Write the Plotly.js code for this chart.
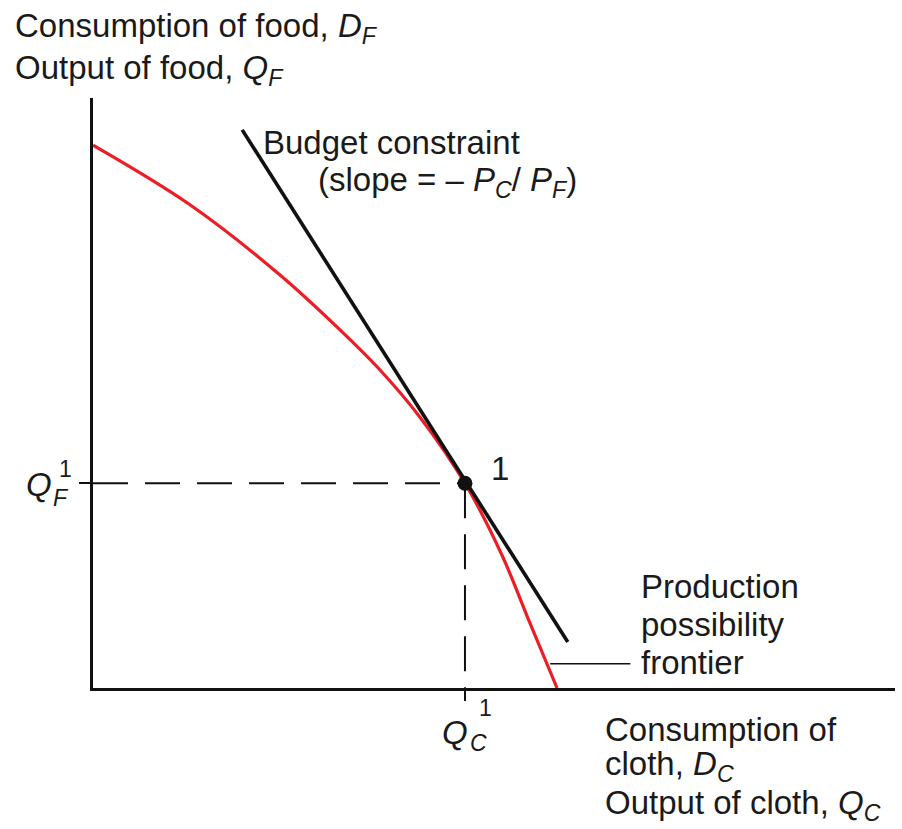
<!DOCTYPE html>
<html>
<head>
<meta charset="utf-8">
<script src="https://cdn.plot.ly/plotly-3.0.1.min.js"></script>
<style>html,body{margin:0;padding:0;background:#fff;}#chart{width:902px;height:829px;}</style>
</head>
<body>
<div id="chart"></div>
<script>
// Production possibility frontier (cloth output, food output)
var ppfX = [0, 1.209, 2.332, 3.080, 3.579, 4.077, 4.638, 5.100, 5.424, 5.786];
var ppfY = [9.20, 8.19, 7.00, 6.07, 5.39, 4.59, 3.47, 2.25, 1.18, 0];
// Budget constraint endpoints
var budgetX = [1.86, 5.92];
var budgetY = [9.46, 0.78];
// Production / consumption point 1
var pointX = [4.638];
var pointY = [3.47];
var pointLabel = ["1"];
// Leader line to the PPF label
var leaderX = [5.70, 6.70];
var leaderY = [0.41, 0.41];

var F = 'Liberation Sans, Arial, Helvetica, sans-serif';
var FS = 33;
var L = 93, R = 7, T = 98, B = 141, W = 902, H = 829;
function px(x){ return (x - L) / (W - L - R); }
function py(y){ return (H - B - y) / (H - B - T); }
function ann(text, x, y, size, xanchor){
  return {text: text, xref: 'paper', yref: 'paper', x: px(x), y: py(y),
    xanchor: xanchor || 'left', yanchor: 'middle', showarrow: false,
    font: {family: F, size: size || FS, color: '#1a1a1a'}};
}

var traces = [
  {x: ppfX, y: ppfY, mode: 'lines', line: {color: '#ee1c24', width: 3.2, shape: 'spline', smoothing: 1}, hoverinfo: 'skip'},
  {x: budgetX, y: budgetY, mode: 'lines', line: {color: '#111', width: 3.6}, hoverinfo: 'skip'},
  {x: [0, pointX[0]], y: [pointY[0], pointY[0]], mode: 'lines', line: {color: '#111', width: 2, dash: '35px,17px'}, hoverinfo: 'skip'},
  {x: [pointX[0], pointX[0]], y: [pointY[0], 0], mode: 'lines', line: {color: '#111', width: 2, dash: '35px,16px'}, hoverinfo: 'skip'},
  {x: leaderX, y: leaderY, mode: 'lines', line: {color: '#111', width: 1.6}, hoverinfo: 'skip'},
  {x: pointX, y: pointY, mode: 'markers', marker: {color: '#111', size: 15}, hoverinfo: 'skip'}
];

var layout = {
  width: W, height: H,
  margin: {l: L, r: R, t: T, b: B},
  paper_bgcolor: '#fff', plot_bgcolor: '#fff',
  showlegend: false,
  xaxis: {range: [0, 10], showgrid: false, zeroline: false, showline: true, linewidth: 3, linecolor: '#111',
    tickvals: pointX, ticks: 'outside', ticklen: 10, tickwidth: 2, tickcolor: '#111', showticklabels: false, fixedrange: true},
  yaxis: {range: [0, 10], showgrid: false, zeroline: false, showline: true, linewidth: 3, linecolor: '#111',
    tickvals: pointY, ticks: 'outside', ticklen: 11, tickwidth: 2, tickcolor: '#111', showticklabels: false, fixedrange: true},
  annotations: [
    ann('Consumption of food, <i>D</i><sub><i>F</i></sub>', 13, 28),
    ann('Output of food, <i>Q</i><sub><i>F</i></sub>', 13, 70),
    ann('Budget constraint', 261, 142),
    ann('(slope = – <i>P</i><sub><i>C</i></sub>/ <i>P</i><sub><i>F</i></sub>)', 316, 182),
    ann(pointLabel[0], 489, 468),
    ann('<i>Q</i>', 24, 484),
    ann('1', 57, 469, 23),
    ann('<i>F</i>', 51, 498, 23),
    ann('<i>Q</i>', 440, 732),
    ann('1', 477, 708, 23),
    ann('<i>C</i>', 468, 743, 23),
    ann('Production', 639, 586),
    ann('possibility', 639, 624),
    ann('frontier', 639, 662),
    ann('Consumption of', 603, 729),
    ann('cloth, <i>D</i><sub><i>C</i></sub>', 603, 766),
    ann('Output of cloth, <i>Q</i><sub><i>C</i></sub>', 603, 805)
  ]
};

Plotly.newPlot('chart', traces, layout, {staticPlot: true, displayModeBar: false});
</script>
</body>
</html>
